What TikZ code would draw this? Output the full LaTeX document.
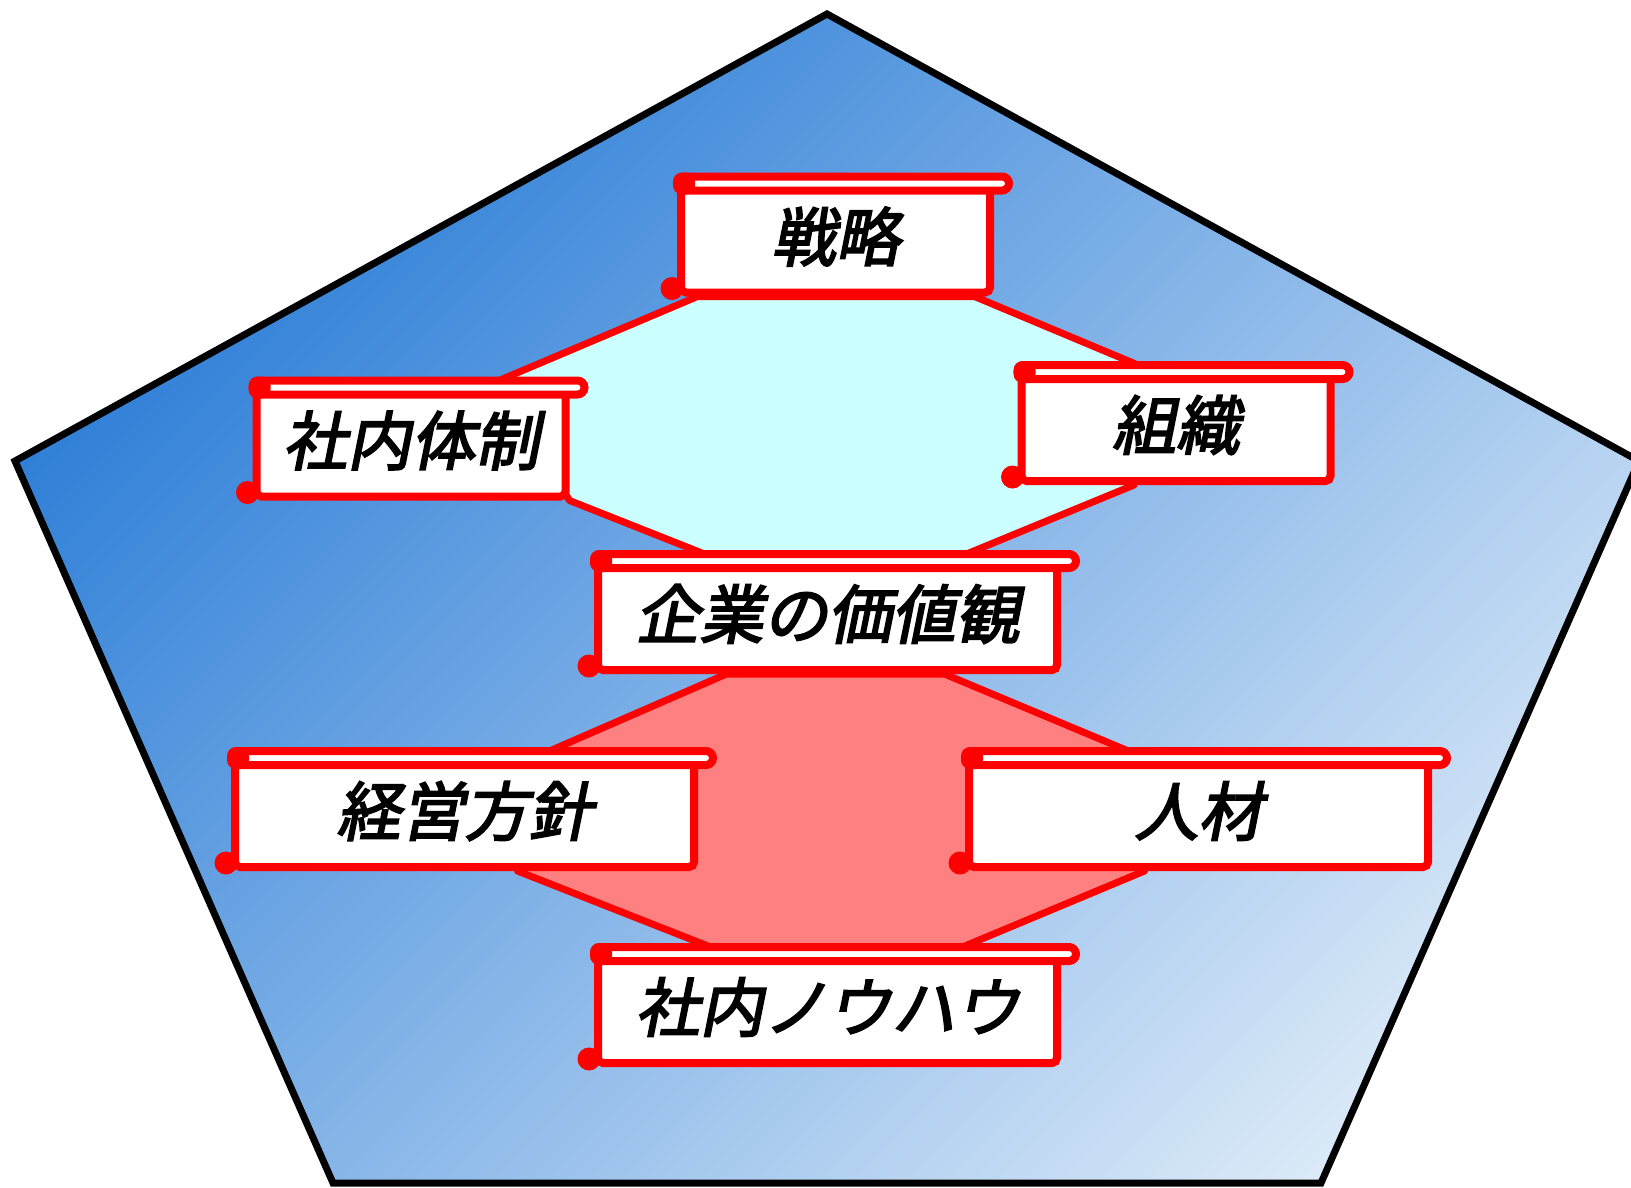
\documentclass[tikz,border=0pt]{standalone}
\usepackage{fontspec}
\newfontfamily\jp[FakeSlant=0.2,FakeBold=3]{Noto Sans CJK JP}
\usetikzlibrary{calc}
\pgfdeclarelayer{back}
\pgfdeclarelayer{hex}
\pgfsetlayers{back,hex,main}
\definecolor{pentdark}{RGB}{32,118,213}
\definecolor{pentlight}{RGB}{236,244,251}
\definecolor{hexcyan}{RGB}{204,255,255}
\definecolor{hexred}{RGB}{255,128,128}

\tikzset{
  scrollbox/.style={draw=red, line width=8pt, fill=white, rounded corners=5pt,
    minimum width=#1, minimum height=112pt, inner sep=0pt,
    font=\jp\fontsize{64}{64}\selectfont},
  scrollbox/.default=309pt,
  rollbar/.style={draw=red, line width=8pt, fill=white, rounded corners=7pt},
  hexline/.style={draw=red, line width=7pt, line join=round}
}

% roll at the top and curl at the bottom left of a scroll node
\newcommand\scrollroll[1]{%
  \draw[rollbar] (#1.north west) rectangle ([shift={(15,14)}]#1.north east);
  \fill[red, rounded corners=9pt] ([shift={(-4,18)}]#1.north west)
    -- ([shift={(-4,-4)}]#1.north west) -- ([shift={(18,-4)}]#1.north west)
    -- ([shift={(18,18)}]#1.north west) -- cycle;
  \fill[red] ([shift={(-5,-8)}]#1.south west) circle (11.5);
}

\begin{document}
\begin{tikzpicture}[x=1pt,y=-1pt]
\useasboundingbox (0,0) rectangle (1631,1187);

\coordinate (p1) at (827,14);
\coordinate (p2) at (1639,461);
\coordinate (p3) at (1321,1183);
\coordinate (p4) at (333,1183);
\coordinate (p5) at (15,461);

\node [scrollbox] (senryaku) at (835.5,236.5) {戦略};
\node [scrollbox] (naisei) at (411,440.5) {社内体制};
\node [scrollbox] (soshiki) at (1176,425) {組織};
\node [scrollbox=459pt] (kachi) at (827.5,614) {企業の価値観};
\node [scrollbox=459pt] (keiei) at (464.5,811) {経営方針};
\node [scrollbox=459pt] (jinzai) at (1198.5,811) {人材};
\node [scrollbox=459pt] (knowhow) at (827.5,1007) {社内ノウハウ};

\foreach \n in {senryaku,naisei,soshiki,kachi,keiei,jinzai,knowhow}
  \scrollroll{\n};

\begin{pgfonlayer}{back}
\begin{scope}
  \clip (p1) -- (p2) -- (p3) -- (p4) -- (p5) -- cycle;
  \shade [left color=pentdark, right color=pentlight, shading angle=45]
    (-23,-187) rectangle (1677,1513);
\end{scope}
\draw [line width=7pt] (p1) -- (p2) -- (p3) -- (p4) -- (p5) -- cycle;
\end{pgfonlayer}

\begin{pgfonlayer}{hex}
% upper hexagon
\filldraw [hexline, fill=hexcyan] ($(senryaku.south west)+(20.5,0)$)
  -- ($(senryaku.south east)+(-19.5,0)$) -- ($(soshiki.north west)+(120.5,0)$)
  -- ($(soshiki.south west)+(116.5,0)$) -- ($(kachi.north east)+(-94.5,0)$)
  -- ($(kachi.north west)+(110.5,0)$) -- (naisei.south east)
  -- ($(naisei.north east)+(-70.5,0)$) -- cycle;
% lower hexagon
\filldraw [hexline, fill=hexred] ($(kachi.south west)+(132.5,0)$)
  -- ($(kachi.south east)+(-116.5,0)$) -- ($(jinzai.north west)+(163.5,0)$)
  -- ($(jinzai.south west)+(179.5,0)$) -- ($(knowhow.north east)+(-98.5,0)$)
  -- ($(knowhow.north west)+(116.5,0)$) -- ($(keiei.south west)+(286.5,0)$)
  -- ($(keiei.north east)+(-148.5,0)$) -- cycle;
\end{pgfonlayer}
\end{tikzpicture}
\end{document}
